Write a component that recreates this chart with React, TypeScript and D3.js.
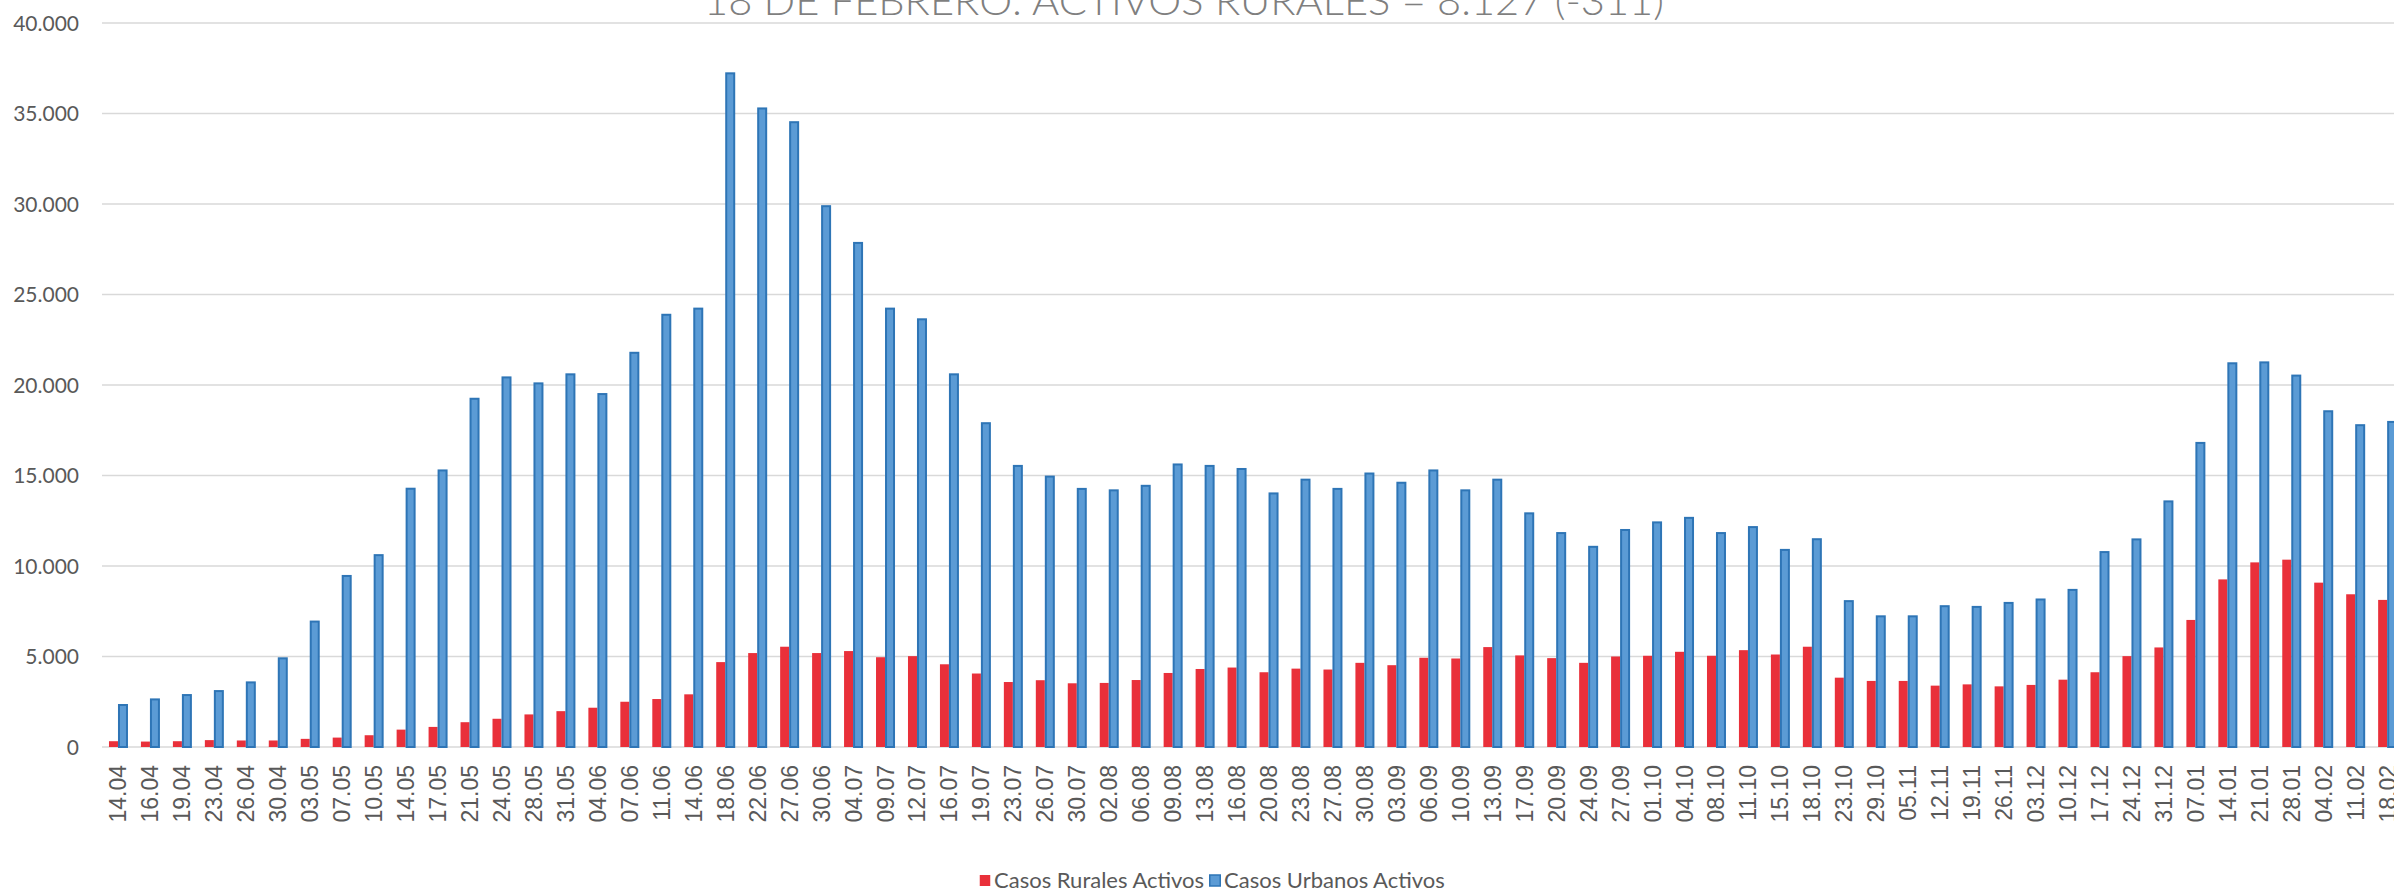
import { useEffect, useRef } from "react";
import * as d3 from "d3";

const WIDTH = 2394;
const HEIGHT = 892;
const MARGIN = { top: 23, left: 102, bottom: 747 };
const STEP = 31.96;

const TITLE = "18 DE FEBRERO: ACTIVOS RURALES = 8.127 (-311)";

const categories = [
  "14.04", "16.04", "19.04", "23.04", "26.04", "30.04", "03.05", "07.05", "10.05", "14.05",
  "17.05", "21.05", "24.05", "28.05", "31.05", "04.06", "07.06", "11.06", "14.06", "18.06",
  "22.06", "27.06", "30.06", "04.07", "09.07", "12.07", "16.07", "19.07", "23.07", "26.07",
  "30.07", "02.08", "06.08", "09.08", "13.08", "16.08", "20.08", "23.08", "27.08", "30.08",
  "03.09", "06.09", "10.09", "13.09", "17.09", "20.09", "24.09", "27.09", "01.10", "04.10",
  "08.10", "11.10", "15.10", "18.10", "23.10", "29.10", "05.11", "12.11", "19.11", "26.11",
  "03.12", "10.12", "17.12", "24.12", "31.12", "07.01", "14.01", "21.01", "28.01", "04.02",
  "11.02", "18.02",
];

const ruralValues = [
  320, 300, 320, 380, 360, 360, 450, 520, 650, 960,
  1110, 1370, 1560, 1800, 1980, 2170, 2500, 2650, 2910, 4690,
  5190, 5540, 5190, 5300, 4960, 5020, 4570, 4060, 3590, 3690,
  3520, 3540, 3700, 4090, 4310, 4390, 4130, 4330, 4280, 4650,
  4520, 4930, 4890, 5520, 5060, 4910, 4650, 5000, 5040, 5260,
  5040, 5350, 5110, 5540, 3830, 3650, 3650, 3390, 3460, 3350,
  3430, 3720, 4130, 5020, 5500, 7020, 9260, 10200, 10350, 9080,
  8438, 8127,
];

const urbanValues = [
  2320, 2630, 2870, 3090, 3570, 4900, 6930, 9450, 10600, 14270,
  15280, 19240, 20420, 20090, 20590, 19500, 21780, 23880, 24220, 37220,
  35280, 34520, 29880, 27850, 24220, 23630, 20590, 17890, 15530, 14940,
  14260, 14180, 14430, 15610, 15530, 15360, 14010, 14770, 14260, 15110,
  14600, 15280, 14180, 14770, 12910, 11820, 11060, 11990, 12410, 12660,
  11820, 12150, 10890, 11480, 8060, 7220, 7220, 7780, 7740, 7960,
  8150, 8680, 10770, 11470, 13570, 16800, 21200, 21250, 20520, 18550,
  17780, 17960,
];

const yTicks = [0, 5000, 10000, 15000, 20000, 25000, 30000, 35000, 40000];

const seriesNames = ["Casos Rurales Activos", "Casos Urbanos Activos"];

const RED = "#E9303A";
const BLUE = "#5B9BD5";
const BLUE_EDGE = "#2E75B6";
const GRID = "#D9D9D9";
const TEXT = "#595959";

const fmt = (v: number) => (v === 0 ? "0" : d3.format(",")(v).replace(/,/g, "."));

export default function App() {
  const svgRef = useRef<SVGSVGElement>(null);

  useEffect(() => {
    const svg = d3.select(svgRef.current);
    svg.selectAll("*").remove();

    const x = d3
      .scaleBand()
      .domain(categories)
      .range([MARGIN.left, MARGIN.left + categories.length * STEP])
      .padding(0);
    const y = d3.scaleLinear().domain([0, 40000]).range([MARGIN.bottom, MARGIN.top]);
    const center = (c: string) => (x(c) ?? 0) + x.bandwidth() / 2;

    svg.append("rect").attr("width", WIDTH).attr("height", HEIGHT).attr("fill", "#fff");

    // gridlines
    svg
      .append("g")
      .selectAll("line")
      .data(yTicks)
      .join("line")
      .attr("x1", MARGIN.left)
      .attr("x2", WIDTH)
      .attr("y1", (d) => y(d))
      .attr("y2", (d) => y(d))
      .attr("stroke", GRID)
      .attr("stroke-width", 1.5);

    // y labels
    svg
      .append("g")
      .selectAll("text")
      .data(yTicks)
      .join("text")
      .attr("x", 79)
      .attr("y", (d) => y(d))
      .attr("dy", "0.36em")
      .attr("text-anchor", "end")
      .attr("font-family", "Lato, 'Open Sans', sans-serif")
      .attr("font-size", 21)
      .attr("fill", TEXT)
      .text((d) => fmt(d));

    // rural bars
    svg
      .append("g")
      .selectAll("rect")
      .data(categories)
      .join("rect")
      .attr("x", (c) => center(c) - 9)
      .attr("width", 9)
      .attr("y", (_, i) => y(ruralValues[i]))
      .attr("height", (_, i) => y(0) - y(ruralValues[i]))
      .attr("fill", RED);

    // urban bars
    svg
      .append("g")
      .selectAll("rect")
      .data(categories)
      .join("rect")
      .attr("x", (c) => center(c) + 1)
      .attr("width", 8)
      .attr("y", (_, i) => y(urbanValues[i]))
      .attr("height", (_, i) => y(0) - y(urbanValues[i]))
      .attr("fill", BLUE)
      .attr("stroke", BLUE_EDGE)
      .attr("stroke-width", 2);

    // x labels
    svg
      .append("g")
      .selectAll("text")
      .data(categories)
      .join("text")
      .attr("transform", (c) => `translate(${center(c) + 8.5},765) rotate(-90)`)
      .attr("text-anchor", "end")
      .attr("font-family", "'Liberation Sans', Arial, sans-serif")
      .attr("font-size", 23)
      .attr("fill", TEXT)
      .text((c) => c);

    // title
    svg
      .append("text")
      .attr("x", 1184)
      .attr("y", 15)
      .attr("text-anchor", "middle")
      .attr("font-family", "Lato, sans-serif")
      .attr("font-weight", 300)
      .attr("font-size", 40)
      .attr("fill", "#7F7F7F")
      .attr("textLength", 960)
      .attr("lengthAdjust", "spacingAndGlyphs")
      .text(TITLE);

    // legend
    const legendItems = [
      { name: seriesNames[0], x: 979, fill: RED, stroke: "none" },
      { name: seriesNames[1], x: 1209, fill: BLUE, stroke: BLUE_EDGE },
    ];
    const lg = svg.append("g");
    legendItems.forEach((it) => {
      lg.append("rect")
        .attr("x", it.x + 0.75)
        .attr("y", 875)
        .attr("width", 10.5)
        .attr("height", 11)
        .attr("fill", it.fill)
        .attr("stroke", it.stroke)
        .attr("stroke-width", 1.5);
      lg.append("text")
        .attr("x", it.x + 15)
        .attr("y", 880)
        .attr("dy", "0.36em")
        .attr("font-family", "Lato, 'Open Sans', sans-serif")
        .attr("font-size", 22)
        .attr("fill", TEXT)
        .text(it.name);
    });
  }, []);

  return (
    <div style={{ position: "absolute", left: 0, top: 0, width: WIDTH, height: HEIGHT, overflow: "hidden" }}>
      <svg ref={svgRef} width={WIDTH} height={HEIGHT} />
    </div>
  );
}
